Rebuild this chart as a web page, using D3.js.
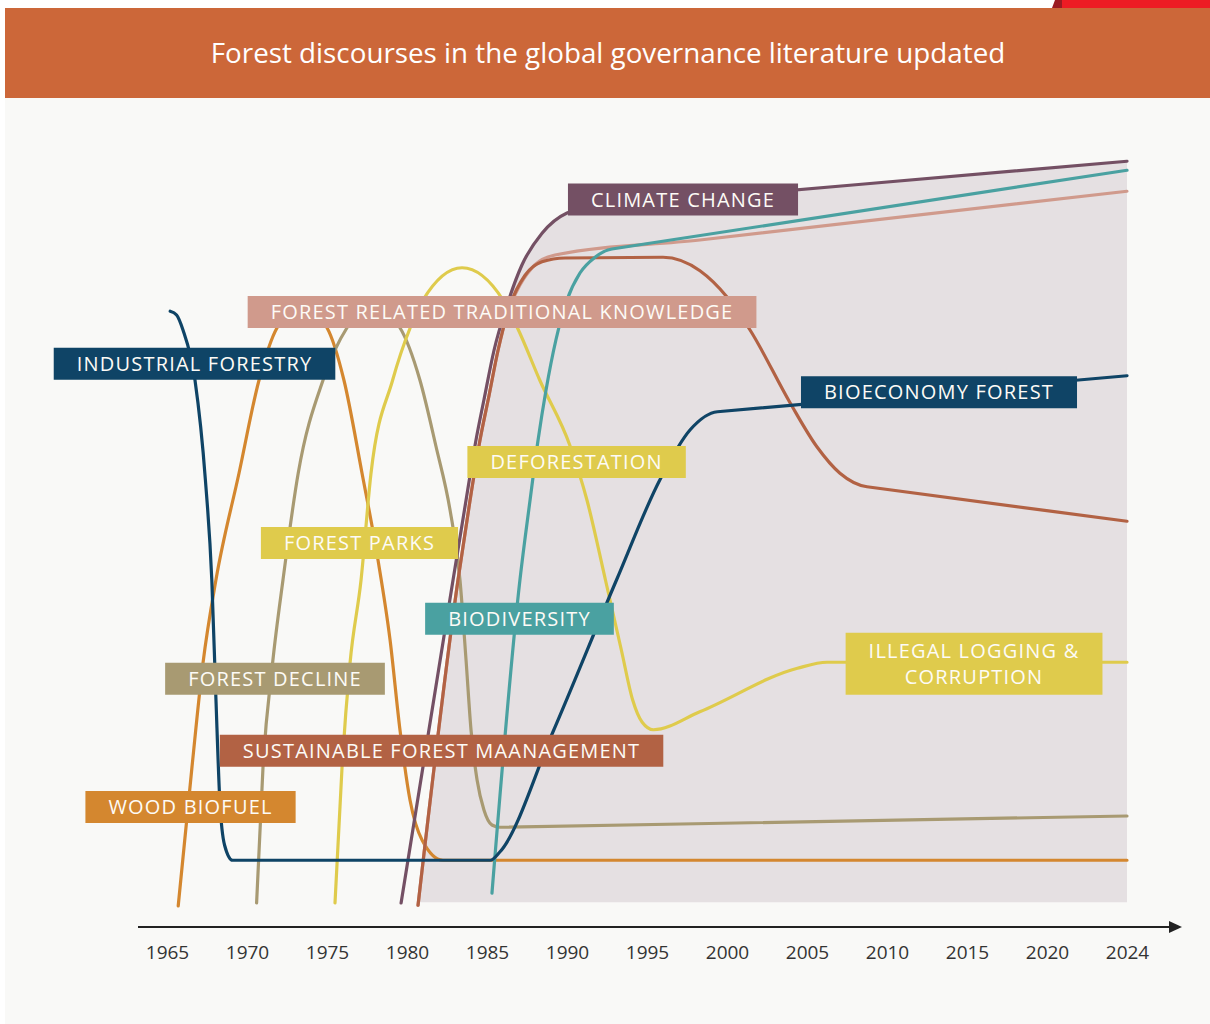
<!DOCTYPE html>
<html>
<head>
<meta charset="utf-8">
<title>Forest discourses</title>
<script src="https://cdn.jsdelivr.net/npm/d3@7/dist/d3.min.js"></script>
<style>
  body { margin: 0; background: #ffffff; }
  #chart-area svg { display: block; }
</style>
</head>
<body>
<div id="chart-area"></div>
<script>

/*
*    Forest discourses in the global governance literature (updated)
*/

// ---- data : [year, relative prominence 0-100] ----
var years = [1965, 1970, 1975, 1980, 1985, 1990, 1995, 2000, 2005, 2010, 2015, 2020, 2024];

var industrialBioeconomy = [[1965.2, 79.3], [1965.6, 78.8], [1966.0, 76.8], [1966.75, 70.1], [1967.4, 56.8],
    [1967.8, 43.5], [1968.06, 27.5], [1968.3, 14.1], [1968.6, 8.1], [1969.1, 6.1], [1985.2, 6.1], [1985.8, 7.2],
    [1989.1, 23.1], [1993.1, 43.5], [1995.8, 56.8], [1997.7, 63.5], [1999.4, 65.9], [2024, 70.7]];

var woodBiofuel = [[1965.7, 0], [1966.56, 18.5], [1967.25, 32.4], [1968.06, 43.5], [1969.5, 57.7], [1970.75, 70.1],
    [1971.88, 77.1], [1973.44, 80.0], [1975.0, 77.1], [1976.06, 70.1], [1977.19, 57.7], [1978.19, 46.1],
    [1978.94, 35.5], [1979.56, 23.5], [1980.19, 14.1], [1980.94, 8.8], [1982.25, 6.1], [2024, 6.1]];

var forestDecline = [[1970.6, 0.4], [1971.0, 18.5], [1971.6, 32.4], [1972.25, 43.5], [1973.2, 57.7], [1974.75, 70.1],
    [1976.25, 77.1], [1977.8, 80.1], [1979.56, 77.1], [1980.81, 70.1], [1981.81, 61.3], [1982.69, 52.8],
    [1983.31, 43.5], [1983.69, 32.8], [1984.0, 23.5], [1984.38, 16.8], [1984.81, 12.8], [1985.31, 10.8],
    [1985.81, 10.5], [2024, 12.0]];

var forestParksDeforestation = [[1975.5, 0.4], [1975.94, 18.5], [1976.44, 32.4], [1977.13, 43.5], [1977.75, 57.7],
    [1979.1, 70.1], [1980.2, 77.1], [1981.0, 80.8], [1983.44, 85.1], [1986.0, 80.8], [1986.9, 77.1],
    [1988.3, 70.1], [1990.2, 61.3], [1991.25, 54.1], [1992.4, 43.5], [1993.4, 34.1], [1994.1, 27.5],
    [1994.7, 24.5], [1995.4, 23.5], [1998.3, 25.9], [2004.4, 31.7], [2006.25, 32.5], [2024, 32.5]];

var climateChange = [[1979.63, 0.4], [1982.88, 43.5], [1983.69, 54.1], [1984.31, 62.1], [1984.81, 67.5],
    [1985.44, 74.1], [1986.25, 80.1], [1987.19, 85.5], [1988.44, 89.7], [1990.0, 92.4], [1991.44, 93.1],
    [2024, 99.3]];

var sustainableManagement = [[1980.69, 0.1], [1983.19, 43.5], [1983.94, 54.1], [1984.56, 62.1], [1985.13, 68.1],
    [1985.69, 74.1], [1986.44, 80.1], [1987.38, 84.1], [1988.44, 85.9], [1989.88, 86.4], [1996.0, 86.5],
    [1998.31, 84.7], [2000.0, 81.2], [2001.44, 76.8], [2003.94, 67.1], [2005.63, 61.2], [2007.06, 57.7],
    [2008.75, 55.9], [2024, 51.3]];

var traditionalKnowledge = [[1980.69, 0.1], [1983.19, 43.5], [1983.94, 54.1], [1984.56, 62.1], [1985.13, 68.1],
    [1985.69, 74.1], [1986.31, 79.2], [1987.06, 82.8], [1988.0, 85.5], [1989.25, 86.8], [1998.31, 88.8],
    [2024, 95.3]];

var biodiversity = [[1985.31, 1.7], [1987.06, 43.5], [1987.69, 54.1], [1988.19, 62.1], [1988.69, 68.8],
    [1989.31, 75.5], [1990.0, 80.8], [1990.81, 84.4], [1991.75, 86.5], [1992.81, 87.6], [2024, 98.1]];

// outline of the grey "current discourses" field
var currentField = [[1980.69, 0.5], [1983.19, 43.5], [1983.94, 54.1], [1984.56, 62.1], [1985.13, 68.1],
    [1985.69, 74.1], [1986.25, 80.1], [1987.19, 85.5], [1988.44, 89.7], [1990.0, 92.4], [1991.44, 93.1],
    [2024, 99.3]];

// label boxes, anchored at [year, value] of their centre
var labels = [
    { text: ["CLIMATE CHANGE"], at: [1997.25, 94.2], key: "climate" },
    { text: ["FOREST RELATED TRADITIONAL KNOWLEDGE"], at: [1985.94, 79.2], key: "tk" },
    { text: ["INDUSTRIAL FORESTRY"], at: [1966.72, 72.3], key: "industrial" },
    { text: ["BIOECONOMY FOREST"], at: [2013.25, 68.5], key: "industrial" },
    { text: ["DEFORESTATION"], at: [1990.6, 59.2], key: "parks" },
    { text: ["FOREST PARKS"], at: [1977.03, 48.4], key: "parks" },
    { text: ["BIODIVERSITY"], at: [1987.03, 38.3], key: "bio" },
    { text: ["ILLEGAL LOGGING &", "CORRUPTION"], at: [2015.44, 32.3], key: "parks" },
    { text: ["FOREST DECLINE"], at: [1971.75, 30.3], key: "decline" },
    { text: ["SUSTAINABLE FOREST MAANAGEMENT"], at: [1982.16, 20.7], key: "sfm" },
    { text: ["WOOD BIOFUEL"], at: [1966.47, 13.2], key: "biofuel" }
];

var color = {
    industrial: "#0f4466",
    biofuel: "#d4872f",
    decline: "#a89a72",
    parks: "#dfcb4c",
    climate: "#745064",
    sfm: "#b26244",
    tk: "#d09a8c",
    bio: "#4aa1a1"
};

// drawing order (bottom to top)
var series = [
    { key: "biofuel", values: woodBiofuel },
    { key: "decline", values: forestDecline },
    { key: "parks", values: forestParksDeforestation },
    { key: "tk", values: traditionalKnowledge },
    { key: "sfm", values: sustainableManagement },
    { key: "climate", values: climateChange },
    { key: "bio", values: biodiversity },
    { key: "industrial", values: industrialBioeconomy }
];

var width = 1210,
    height = 1024;

var svg = d3.select("#chart-area")
    .append("svg")
    .attr("width", width)
    .attr("height", height);

// page panel + header
svg.append("rect")
    .attr("x", 5).attr("y", 98)
    .attr("width", width - 5).attr("height", height - 98)
    .attr("fill", "#f9f9f7");

svg.append("polygon")
    .attr("points", "1052,8 1055,0 1062,0 1062,8")
    .attr("fill", "#9b1b22");
svg.append("rect")
    .attr("x", 1062).attr("y", 0)
    .attr("width", width - 1062).attr("height", 8)
    .attr("fill", "#ed1c24");

svg.append("rect")
    .attr("x", 5).attr("y", 8)
    .attr("width", width - 5).attr("height", 90)
    .attr("fill", "#cc6739");

var title = svg.append("text")
    .attr("x", 608)
    .attr("y", 63)
    .attr("text-anchor", "middle")
    .attr("fill", "#ffffff")
    .style("font-family", "'Open Sans', sans-serif")
    .style("font-size", "28px")
    .text("Forest discourses in the global governance literature updated");

// squeeze the title to the width it has in the figure
var tl = title.node().getComputedTextLength();
if (tl > 795) title.style("font-size", (28 * 795 / tl) + "px");

// scales : the last step (2020 -> 2024) gets a full tick spacing
var x = d3.scaleLinear()
    .domain([1965, 2020, 2024])
    .range([167, 1047, 1127]);

var y = d3.scaleLinear()
    .domain([0, 100])
    .range([906, 156]);

// monotone cubic through the points, but the last stretch is kept straight
function smoothPath(values) {
    var p = values.map(function(d) { return [x(d[0]), y(d[1])]; });
    var n = p.length, h = [], s = [], t = [];
    for (var i = 0; i < n - 1; i++) {
        h[i] = p[i + 1][0] - p[i][0];
        s[i] = (p[i + 1][1] - p[i][1]) / h[i];
    }
    for (i = 1; i < n - 1; i++) {
        if (s[i - 1] * s[i] <= 0) { t[i] = 0; continue; }
        var pp = (s[i - 1] * h[i] + s[i] * h[i - 1]) / (h[i - 1] + h[i]);
        t[i] = (Math.sign(s[i - 1]) + Math.sign(s[i])) *
            Math.min(Math.abs(s[i - 1]), Math.abs(s[i]), 0.5 * Math.abs(pp));
    }
    t[n - 1] = s[n - 2];
    t[n - 2] = s[n - 2];
    t[0] = n > 2 ? (3 * s[0] - t[1]) / 2 : s[0];

    var path = d3.path();
    path.moveTo(p[0][0], p[0][1]);
    for (i = 0; i < n - 1; i++) {
        var dx = h[i] / 3;
        path.bezierCurveTo(p[i][0] + dx, p[i][1] + t[i] * dx,
            p[i + 1][0] - dx, p[i + 1][1] - t[i + 1] * dx,
            p[i + 1][0], p[i + 1][1]);
    }
    return path.toString();
}

var g = svg.append("g");

// grey field
var first = currentField[0],
    last = currentField[currentField.length - 1];

g.append("path")
    .attr("d", smoothPath(currentField) +
        "L" + x(last[0]) + "," + y(first[1]) +
        "L" + x(first[0]) + "," + y(first[1]) + "Z")
    .attr("fill", "#e5e0e2");

// discourse lines
g.selectAll(".discourse")
    .data(series)
    .enter().append("path")
        .attr("class", "discourse")
        .attr("d", function(d) { return smoothPath(d.values); })
        .attr("fill", "none")
        .attr("stroke", function(d) { return color[d.key]; })
        .attr("stroke-width", 3.2)
        .attr("stroke-linecap", "round")
        .attr("stroke-linejoin", "round");

// x axis with arrow
var axisY = 927;

svg.append("line")
    .attr("x1", 138).attr("x2", 1172)
    .attr("y1", axisY).attr("y2", axisY)
    .attr("stroke", "#222")
    .attr("stroke-width", 2);

svg.append("polygon")
    .attr("points", "1169," + (axisY - 6) + " 1182," + axisY + " 1169," + (axisY + 6))
    .attr("fill", "#222");

var xAxis = d3.axisBottom(x)
    .tickValues(years)
    .tickFormat(d3.format("d"))
    .tickSize(0)
    .tickPadding(19);

var axisG = svg.append("g")
    .attr("transform", "translate(0," + axisY + ")")
    .call(xAxis);

axisG.select(".domain").remove();
axisG.selectAll("text")
    .attr("fill", "#333")
    .style("font-family", "'Open Sans', sans-serif")
    .style("font-size", "19px");

// label boxes
var lab = svg.selectAll(".label")
    .data(labels)
    .enter().append("g")
        .attr("class", "label")
        .attr("transform", function(d) {
            return "translate(" + x(d.at[0]) + "," + y(d.at[1]) + ")";
        });

lab.each(function(d) {
    var sel = d3.select(this);
    var rect = sel.append("rect").attr("fill", color[d.key]);
    var n = d.text.length;
    var txt = sel.append("text")
        .attr("text-anchor", "middle")
        .attr("fill", "#fdfbf6")
        .style("font-family", "'Open Sans', sans-serif")
        .style("font-size", "20px")
        .style("letter-spacing", "1.2px");
    d.text.forEach(function(t, i) {
        txt.append("tspan")
            .attr("x", 0)
            .attr("y", (i - (n - 1) / 2) * 26)
            .attr("dy", "0.35em")
            .text(t);
    });
    var w = 0;
    txt.selectAll("tspan").each(function() {
        w = Math.max(w, this.getComputedTextLength());
    });
    var bw = w + 46,
        bh = 32 + (n - 1) * 30;
    rect.attr("x", -bw / 2).attr("y", -bh / 2)
        .attr("width", bw).attr("height", bh);
});

</script>
</body>
</html>
